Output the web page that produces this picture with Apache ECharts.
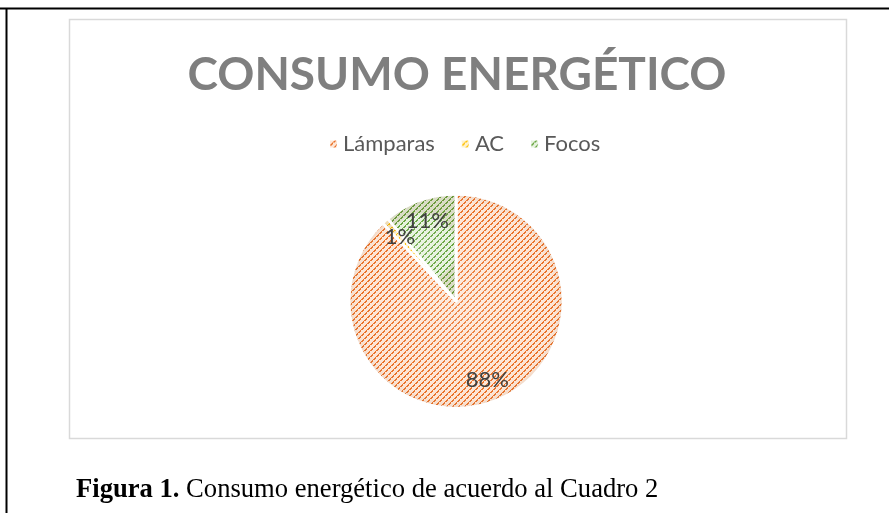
<!DOCTYPE html>
<html>
<head>
<meta charset="utf-8">
<script src="https://cdn.jsdelivr.net/npm/echarts@6/dist/echarts.min.js"></script>
<style>
  html, body { margin: 0; padding: 0; background: #fff; }
  #chart { width: 889px; height: 513px; }
</style>
</head>
<body>
<div id="chart"></div>
<script>
// Energy consumption share per device type (percent)
const categories = ['Lámparas', 'AC', 'Focos'];
const shares = [88, 1, 11];
const titleText = 'CONSUMO ENERGÉTICO';
const captionBold = 'Figura 1.';
const captionText = ' Consumo energético de acuerdo al Cuadro 2';

// Diagonal stripes used as slice fill
function hatch(bg, fg) {
  const n = 6;
  const c = document.createElement('canvas');
  c.width = n; c.height = n;
  const g = c.getContext('2d');
  g.fillStyle = bg;
  g.fillRect(0, 0, n, n);
  g.fillStyle = fg;
  for (let x = 0; x < n; x++) {
    for (let y = 0; y < n; y++) {
      const d = (x + y) % n;
      if (d === 0 || (d === 1 && x % 3 !== 1)) g.fillRect(x, y, 1, 1);
    }
  }
  return { image: c, repeat: 'repeat' };
}

const fills = [
  hatch('#fde6d6', '#ea7128'),
  hatch('#fff2cc', '#ffc000'),
  hatch('#e6f2de', '#66a43e')
];

const chart = echarts.init(document.getElementById('chart'), null, { renderer: 'canvas' });

const pieCenter = ['51.3%', '58.7%'];
const pieRadius = 107;

chart.setOption({
  animation: false,
  title: {
    text: titleText,
    left: 452,
    top: 47,
    textAlign: 'center',
    textStyle: {
      fontFamily: 'Lato',
      fontWeight: 'bold',
      fontSize: 46,
      color: '#7f7f7f'
    }
  },
  legend: {
    data: categories,
    top: 128,
    left: 323,
    icon: 'rect',
    itemWidth: 9,
    itemHeight: 9,
    itemGap: 25,
    textStyle: { fontFamily: 'Lato', fontSize: 22, color: '#595959' }
  },
  graphic: [
    { type: 'line', shape: { x1: 0, y1: 8.5, x2: 889, y2: 8.5 }, style: { stroke: '#000', lineWidth: 2 }, silent: true },
    { type: 'line', shape: { x1: 6.5, y1: 8, x2: 6.5, y2: 513 }, style: { stroke: '#000', lineWidth: 2 }, silent: true },
    { type: 'rect', shape: { x: 69.5, y: 19.5, width: 777, height: 419 }, style: { fill: 'none', stroke: '#d9d9d9', lineWidth: 1.5 }, silent: true },
    {
      type: 'text', x: 76, y: 490, scaleX: 0.95, silent: true,
      style: {
        text: '{b|' + captionBold + '}{n|' + captionText + '}',
        verticalAlign: 'middle',
        rich: {
          b: { fontFamily: 'Liberation Serif', fontWeight: 'bold', fontSize: 28, fill: '#000' },
          n: { fontFamily: 'Liberation Serif', fontSize: 28, fill: '#000' }
        }
      }
    }
  ],
  series: [
    {
      type: 'pie',
      center: pieCenter,
      radius: pieRadius,
      startAngle: 90,
      clockwise: true,
      label: { show: false },
      labelLine: { show: false },
      itemStyle: { borderColor: '#fff', borderWidth: 2.5 },
      emphasis: { disabled: true },
      data: categories.map((n, i) => ({ name: n, value: shares[i], itemStyle: { color: fills[i] } }))
    },
    {
      // soft rim shading on top of the hatched slices
      type: 'pie',
      center: pieCenter,
      radius: pieRadius,
      startAngle: 90,
      silent: true,
      label: { show: false },
      labelLine: { show: false },
      itemStyle: {
        borderColor: '#fff', borderWidth: 2.5,
        color: {
          type: 'radial', x: 0.5, y: 0.5, r: 0.5,
          colorStops: [
            { offset: 0, color: 'rgba(255,255,255,0.2)' },
            { offset: 0.88, color: 'rgba(255,255,255,0)' },
            { offset: 1, color: 'rgba(140,90,50,0.14)' }
          ]
        }
      },
      emphasis: { disabled: true },
      data: categories.map((n, i) => ({ name: n, value: shares[i] }))
    },
    {
      // percentage labels placed near the rim
      type: 'pie',
      center: pieCenter,
      radius: [60, 104],
      startAngle: 90,
      silent: true,
      avoidLabelOverlap: false,
      itemStyle: { color: 'rgba(0,0,0,0)' },
      label: {
        show: true,
        position: 'inside',
        formatter: '{c}%',
        fontFamily: 'Lato',
        fontSize: 22,
        color: '#404040'
      },
      labelLayout: { hideOverlap: false },
      labelLine: { show: false },
      emphasis: { disabled: true },
      data: categories.map((n, i) => ({ name: n, value: shares[i] }))
    }
  ]
});
</script>
</body>
</html>
